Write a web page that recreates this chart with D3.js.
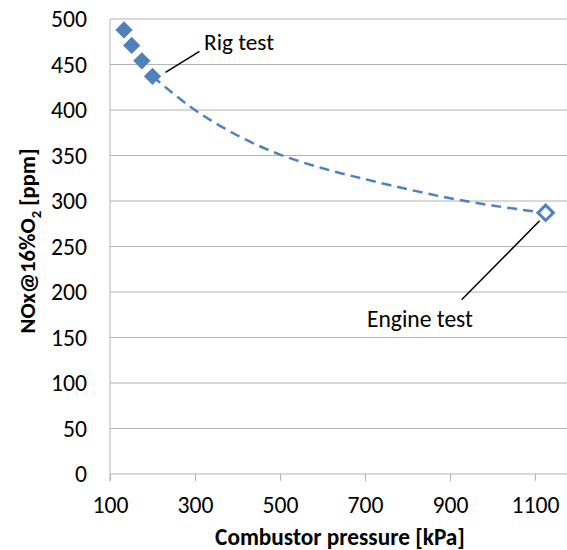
<!DOCTYPE html>
<html>
<head>
<meta charset="utf-8">
<script src="https://cdn.jsdelivr.net/npm/d3@7"></script>
<style>
  body { margin: 0; background: #fff; }
  svg { display: block; font-family: Carlito, Lato, sans-serif; }
</style>
</head>
<body>
<svg id="chart"></svg>
<script>
// rig test points (pressure kPa, NOx ppm)
const rigPressure = [133, 151, 175, 200];
const rigNox = [488, 471, 454, 437];
// engine test point
const enginePressure = [1125];
const engineNox = [287];
// dashed trend line
const trendPressure = [200, 300, 400, 500, 600, 700, 800, 900, 1000, 1125];
const trendNox = [437, 400, 372, 351, 336, 324, 313, 303, 295, 287];

const xTicks = [100, 300, 500, 700, 900, 1100];
const yTicks = [0, 50, 100, 150, 200, 250, 300, 350, 400, 450, 500];

const W = 567, H = 550;
const margin = {top: 19, right: -10, bottom: 76, left: 110};
const height = H - margin.top - margin.bottom;

const svg = d3.select("#chart").attr("width", W).attr("height", H);
const g = svg.append("g").attr("transform", `translate(${margin.left},${margin.top})`);

const x = d3.scaleLinear().domain([100, 1200]).range([0, 467.5]);
const y = d3.scaleLinear().domain([0, 500]).range([height, 0]);

const blue = "#4f81bd";
const grid = "#b3b3b3";

// scale a text's font so it is about `w` px wide
function fit(sel, w) {
    const base = parseFloat(sel.style("font-size"));
    const len = sel.node().getComputedTextLength();
    sel.style("font-size", (base * w / len).toFixed(2) + "px");
}

// work out tick label size from "500" being ~36px wide
const probe = svg.append("text").style("font-size", "20px").text("500");
fit(probe, 36);
const tickSize = probe.style("font-size");
probe.remove();

// gridlines
g.append("g")
    .selectAll("line")
    .data(yTicks.filter(d => d > 0))
    .join("line")
    .attr("x1", 0).attr("x2", W)
    .attr("y1", d => y(d)).attr("y2", d => y(d))
    .attr("stroke", grid).attr("stroke-width", 1);

// y axis
const yAxis = g.append("g")
    .call(d3.axisLeft(y).tickValues(yTicks).tickSize(0).tickPadding(23));
yAxis.select(".domain").attr("stroke", grid).attr("d", `M0,0V${height + 7}`);
yAxis.selectAll("text").style("font-size", tickSize).attr("fill", "#000");

// x axis
const xAxis = g.append("g")
    .attr("transform", `translate(0,${height})`)
    .call(d3.axisBottom(x).tickValues(xTicks).tickFormat(d3.format("d"))
        .tickSize(7).tickSizeOuter(0).tickPadding(15));
xAxis.select(".domain").attr("stroke", grid).attr("d", `M0,0H${W}`);
xAxis.selectAll(".tick line").attr("stroke", grid);
xAxis.selectAll("text").style("font-size", tickSize).attr("fill", "#000");
svg.selectAll("g[font-family]").attr("font-family", null).attr("font-size", null);

// axis titles
const xt = svg.append("text")
    .attr("x", 340).attr("y", 545)
    .attr("text-anchor", "middle")
    .style("font-size", "20px").style("font-weight", "bold")
    .text("Combustor pressure [kPa]");
fit(xt, 250);

const yt = svg.append("text")
    .attr("transform", "translate(35,241) rotate(-90)")
    .attr("text-anchor", "middle")
    .style("font-size", "20px").style("font-weight", "bold");
yt.append("tspan").text("NOx@16%O");
yt.append("tspan").text("2").style("font-size", "0.65em").attr("dy", 6);
yt.append("tspan").text(" [ppm]").attr("dy", -6);
fit(yt, 185);

// trend line
const trend = trendPressure.map((p, i) => ({p, n: trendNox[i]}));
g.append("path")
    .datum(trend)
    .attr("fill", "none")
    .attr("stroke", blue)
    .attr("stroke-width", 2.5)
    .attr("stroke-dasharray", "10,6")
    .attr("d", d3.line().x(d => x(d.p)).y(d => y(d.n)).curve(d3.curveMonotoneX));

// leader lines
g.append("line")
    .attr("x1", x(200) + 13).attr("y1", y(437) - 4)
    .attr("x2", x(200) + 47).attr("y2", y(437) - 25)
    .attr("stroke", "#000").attr("stroke-width", 1.5);
g.append("line")
    .attr("x1", x(1125) - 6).attr("y1", y(287) + 8)
    .attr("x2", x(1125) - 84).attr("y2", y(287) + 87)
    .attr("stroke", "#000").attr("stroke-width", 1.5);

// markers
const rig = rigPressure.map((p, i) => ({p, n: rigNox[i]}));
g.selectAll(".rig")
    .data(rig)
    .join("path")
    .attr("class", "rig")
    .attr("transform", d => `translate(${x(d.p)},${y(d.n)})`)
    .attr("d", d3.symbol().type(d3.symbolDiamond2).size(190))
    .attr("fill", blue);

const eng = enginePressure.map((p, i) => ({p, n: engineNox[i]}));
g.selectAll(".eng")
    .data(eng)
    .join("path")
    .attr("class", "eng")
    .attr("transform", d => `translate(${x(d.p)},${y(d.n)})`)
    .attr("d", d3.symbol().type(d3.symbolDiamond2).size(150))
    .attr("fill", "#fff")
    .attr("stroke", blue)
    .attr("stroke-width", 3);

// labels
const rl = svg.append("text")
    .attr("x", 204).attr("y", 50)
    .style("font-size", "20px")
    .text("Rig test");
fit(rl, 70);
const el = svg.append("text")
    .attr("x", 367).attr("y", 327)
    .style("font-size", "20px")
    .text("Engine test");
fit(el, 106);
</script>
</body>
</html>
